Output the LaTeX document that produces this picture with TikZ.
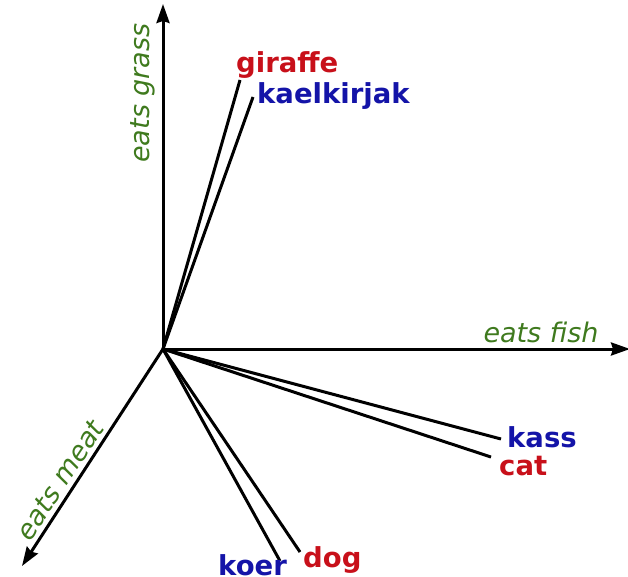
\documentclass[tikz,border=0pt]{standalone}
\usepackage{fontspec}
\setmainfont{DejaVu Sans}
\usetikzlibrary{arrows.meta}
\definecolor{axisgreen}{HTML}{3F7A1E}
\definecolor{wordred}{HTML}{C8101A}
\definecolor{wordblue}{HTML}{1414A8}
\tikzset{
  axis/.style={line width=3pt,-{Stealth[length=19pt,width=13pt,inset=2pt]}},
  vec/.style={line width=3pt},
  axislabel/.style={text=axisgreen,font=\fontsize{27}{31}\selectfont\itshape,inner sep=0pt},
  wordlabel/.style={font=\fontsize{27.5}{32}\selectfont\bfseries,inner sep=0pt},
  en/.style={wordlabel,text=wordred},
  et/.style={wordlabel,text=wordblue}
}
\begin{document}
\begin{tikzpicture}[x=1pt,y=-1pt]
\useasboundingbox (0,0) rectangle (628,577);
% origin and axis ends
\coordinate (O) at (163,349);
\coordinate (grass) at (163,4);
\coordinate (fish) at (630,349);
\coordinate (meat) at (22,566);
\draw[axis] (O) -- (grass);
\draw[axis] (O) -- (fish);
\draw[axis] (O) -- (meat);
\node[axislabel,rotate=90] (lgrass) at (143,93) {eats grass};
\node[axislabel] (lfish) at (541,332) {eats fish};
\node[axislabel,rotate=56.6] (lmeat) at (60,480) {eats meat};
% word vectors
\coordinate (giraffe) at (240,80);
\coordinate (kaelkirjak) at (253,97);
\coordinate (kass) at (501,439);
\coordinate (cat) at (491,457);
\coordinate (dog) at (300,552);
\coordinate (koer) at (280,561);
\foreach \w in {giraffe,kaelkirjak,kass,cat,dog,koer}
  \draw[vec] (O) -- (\w);
\node[en,anchor=west] (tgiraffe) at (236,65) {giraffe};
\node[et,anchor=west] (tkaelkirjak) at (257,96) {kaelkirjak};
\node[et,anchor=west] (tkass) at (507,437) {kass};
\node[en,anchor=west] (tcat) at (499,466) {cat};
\node[en,anchor=west] (tdog) at (303,560) {dog};
\node[et,anchor=west] (tkoer) at (218,565) {koer};
\end{tikzpicture}
\end{document}
